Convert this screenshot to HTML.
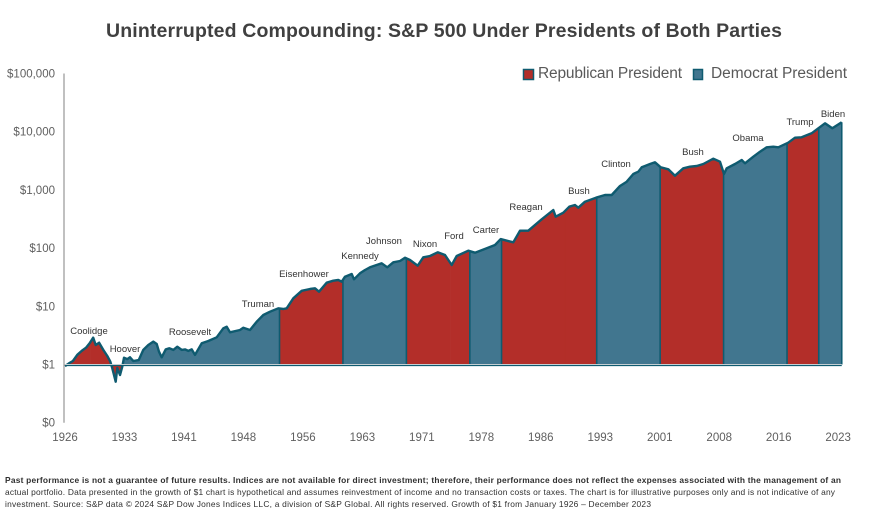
<!DOCTYPE html>
<html lang="en">
<head>
<meta charset="utf-8">
<title>Uninterrupted Compounding: S&amp;P 500 Under Presidents of Both Parties</title>
<style>
html,body{margin:0;padding:0;background:#fff;}
body{width:874px;height:519px;overflow:hidden;}
svg{display:block;font-family:"Liberation Sans",sans-serif;}
.pres{font-size:9.5px;fill:#333;text-anchor:middle;}
.tick{font-size:11.5px;fill:#5f5f5f;}
.legend{font-size:15.5px;fill:#595959;}
.foot{font-size:8.4px;fill:#2f2f2f;}
</style>
</head>
<body>
<svg id="chart" width="874" height="519" viewBox="0 0 874 519" xmlns="http://www.w3.org/2000/svg">
  <text x="106" y="37" font-size="19.5" font-weight="bold" fill="#404040" textLength="676" lengthAdjust="spacing">Uninterrupted Compounding: S&amp;P 500 Under Presidents of Both Parties</text>

  <rect x="523.5" y="69.5" width="10" height="10" fill="#b32e29" stroke="#0f5b70" stroke-width="1.5"/>
  <text class="legend" x="538" y="78" textLength="144" lengthAdjust="spacing">Republican President</text>
  <rect x="693.5" y="69.5" width="9" height="10" fill="#41768f" stroke="#0f5b70" stroke-width="1.5"/>
  <text class="legend" x="711" y="78" textLength="136" lengthAdjust="spacing">Democrat President</text>

  <g id="fills"></g>
  <g id="lines"></g>
  <g id="axes"></g>

  <g>
    <text class="pres" x="89" y="334">Coolidge</text>
    <text class="pres" x="125" y="352">Hoover</text>
    <text class="pres" x="190" y="335">Roosevelt</text>
    <text class="pres" x="258" y="307">Truman</text>
    <text class="pres" x="304" y="277">Eisenhower</text>
    <text class="pres" x="360" y="259">Kennedy</text>
    <text class="pres" x="384" y="244">Johnson</text>
    <text class="pres" x="425" y="247">Nixon</text>
    <text class="pres" x="454" y="239">Ford</text>
    <text class="pres" x="486" y="233">Carter</text>
    <text class="pres" x="526" y="210">Reagan</text>
    <text class="pres" x="579" y="194">Bush</text>
    <text class="pres" x="616" y="167">Clinton</text>
    <text class="pres" x="693" y="155">Bush</text>
    <text class="pres" x="748" y="141">Obama</text>
    <text class="pres" x="800" y="125">Trump</text>
    <text class="pres" x="833" y="117">Biden</text>
  </g>

  <g>
    <text class="foot" x="5" y="483" font-weight="bold" textLength="836" lengthAdjust="spacing">Past performance is not a guarantee of future results. Indices are not available for direct investment; therefore, their performance does not reflect the expenses associated with the management of an</text>
    <text class="foot" x="5" y="495" textLength="830" lengthAdjust="spacing">actual portfolio. Data presented in the growth of $1 chart is hypothetical and assumes reinvestment of income and no transaction costs or taxes. The chart is for illustrative purposes only and is not indicative of any</text>
    <text class="foot" x="5" y="507" textLength="646" lengthAdjust="spacing">investment. Source: S&amp;P data © 2024 S&amp;P Dow Jones Indices LLC, a division of S&amp;P Global. All rights reserved. Growth of $1 from January 1926 – December 2023</text>
  </g>
</svg>
<script>
const dates = [1926.0,1926.5,1927.0,1927.55,1928.1,1928.65,1929.15,1929.55,1929.87,1930.3,1930.83,1931.33,1931.71,1931.96,1932.39,1932.6,1932.94,1933.23,1933.44,1933.86,1934.2,1934.61,1935.29,1935.87,1936.5,1937.13,1937.56,1937.85,1938.19,1938.7,1939.15,1939.66,1940.16,1940.72,1941.13,1941.55,1941.98,1942.39,1943.24,1944.07,1945.13,1945.96,1946.39,1946.81,1948.07,1948.48,1949.33,1950.17,1951.0,1951.85,1952.9,1953.53,1953.96,1954.79,1955.85,1956.9,1957.53,1958.03,1959.0,1959.83,1960.46,1960.89,1961.31,1962.15,1962.44,1963.2,1963.83,1964.46,1965.94,1966.64,1967.4,1968.24,1968.88,1969.5,1970.48,1971.18,1972.03,1973.0,1973.92,1974.76,1975.39,1976.86,1977.7,1979.18,1980.22,1980.94,1982.53,1983.38,1984.42,1986.11,1987.58,1987.88,1988.84,1989.59,1990.31,1990.73,1991.57,1992.96,1994.1,1994.94,1995.99,1996.83,1997.66,1998.3,1998.72,1999.14,1999.77,2000.4,2001.12,2002.08,2002.92,2003.97,2004.8,2005.66,2006.49,2007.75,2008.6,2009.1,2009.44,2010.49,2011.34,2011.75,2012.8,2013.64,2014.49,2015.32,2015.95,2017.2,2018.05,2018.89,2020.15,2020.99,2021.84,2022.76,2023.95];
const growth = [0.94,1.05,1.15,1.47,1.71,1.94,2.37,2.89,2.16,2.37,1.78,1.40,1.12,0.86,0.506,0.87,0.66,0.92,1.31,1.24,1.33,1.15,1.19,1.78,2.16,2.47,2.25,1.66,1.33,1.82,1.90,1.78,2.02,1.78,1.82,1.71,1.82,1.46,2.31,2.53,2.93,4.19,4.46,3.57,3.92,4.29,3.92,5.44,7.09,8.08,9.24,8.99,9.24,13.7,18.5,19.8,20.4,17.8,25.4,27.5,28.3,26.5,32.3,35.9,29.1,36.9,42.1,46.8,54.8,46.8,57.0,60.0,68.4,62.5,49.9,69.5,73.1,84.7,76.1,51.3,73.1,90.2,83.4,99.2,113,143,126,199,199,313,452,347,406,514,551,494,627,735,817,817,1167,1384,1875,2056,2443,2576,2786,2979,2443,2259,1754,2350,2505,2576,2786,3436,3055,1875,2350,2786,3266,2864,3717,4530,5395,5521,5395,6471,7888,8017,9397,11430,13930,11430,14510];
const termNames = ['coolidge','hoover','roosevelt','truman','eisenhower','kennedy','johnson','nixon','ford','carter','reagan','bush-senior','clinton','bush-junior','obama','trump','biden'];
const termStarts = [1926.0,1929.2,1933.2,1945.3,1953.05,1961.05,1963.9,1969.05,1974.6,1977.05,1981.05,1989.05,1993.05,2001.05,2009.05,2017.05,2021.05];
const termParties = ['R','R','D','D','R','D','D','R','R','D','R','R','D','R','D','R','D'];
const yTickValues = [100000,10000,1000,100,10,1,0.1];
const yTickLabels = ['$100,000','$10,000','$1,000','$100','$10','$1','$0'];
const xTickYears = [1926,1933.5,1941,1948.5,1956,1963.5,1971,1978.5,1986,1993.5,2001,2008.5,2016,2023.5];
const xTickLabels = ['1926','1933','1941','1948','1956','1963','1971','1978','1986','1993','2001','2008','2016','2023'];

const NS = 'http://www.w3.org/2000/svg';
const xOf = t => 65 + 7.93 * (t - 1926);
const yOf = v => 364.5 - 58.2 * Math.log10(v);
const partyColor = { R: '#b32e29', D: '#41768f' };
const LINE = '#0f5b70';
const lastDate = dates[dates.length - 1];

function valueAt(t) {
  if (t <= dates[0]) return growth[0];
  for (let i = 1; i < dates.length; i++) {
    if (t <= dates[i]) {
      const f = (t - dates[i - 1]) / (dates[i] - dates[i - 1]);
      return Math.pow(10, Math.log10(growth[i - 1]) + f * (Math.log10(growth[i]) - Math.log10(growth[i - 1])));
    }
  }
  return growth[growth.length - 1];
}

const fills = document.getElementById('fills');
const lines = document.getElementById('lines');
const axes = document.getElementById('axes');
const base = yOf(1);

termNames.forEach((name, k) => {
  const start = termStarts[k];
  const end = k + 1 < termStarts.length ? termStarts[k + 1] : lastDate;
  const pts = [[xOf(start), base], [xOf(start), yOf(valueAt(start))]];
  dates.forEach((t, i) => {
    if (t > start && t < end) pts.push([xOf(t), yOf(growth[i])]);
  });
  pts.push([xOf(end), yOf(valueAt(end))], [xOf(end), base]);
  const poly = document.createElementNS(NS, 'polygon');
  
  
  poly.setAttribute('points', pts.map(p => p[0].toFixed(1) + ',' + p[1].toFixed(1)).join(' '));
  poly.setAttribute('fill', partyColor[termParties[k]]);
  poly.setAttribute('stroke', partyColor[termParties[k]]);
  poly.setAttribute('stroke-width', '0.4');
  fills.appendChild(poly);
});

const dividerDates = termStarts.filter((t, k) => k > 0 && termParties[k] !== termParties[k - 1]).concat([lastDate]);
dividerDates.forEach(t => {
  const div = document.createElementNS(NS, 'line');
  
  
  div.setAttribute('x1', xOf(t));
  div.setAttribute('x2', xOf(t));
  div.setAttribute('y1', yOf(valueAt(t)));
  div.setAttribute('y2', base);
  div.setAttribute('stroke', LINE);
  div.setAttribute('stroke-width', '1.6');
  lines.appendChild(div);
});

const path = document.createElementNS(NS, 'polyline');


path.setAttribute('points', dates.map((t, i) => xOf(t).toFixed(1) + ',' + yOf(growth[i]).toFixed(1)).join(' '));
path.setAttribute('fill', 'none');
path.setAttribute('stroke', LINE);
path.setAttribute('stroke-width', '2.4');
path.setAttribute('stroke-linejoin', 'round');
lines.appendChild(path);

const baseTeal = document.createElementNS(NS, 'line');


baseTeal.setAttribute('x1', xOf(1926));
baseTeal.setAttribute('x2', xOf(lastDate));
baseTeal.setAttribute('y1', base + 1);
baseTeal.setAttribute('y2', base + 1);
baseTeal.setAttribute('stroke', LINE);
baseTeal.setAttribute('stroke-width', '1.2');
lines.appendChild(baseTeal);

const baseGrey = document.createElementNS(NS, 'line');


baseGrey.setAttribute('x1', xOf(1926));
baseGrey.setAttribute('x2', xOf(lastDate));
baseGrey.setAttribute('y1', base);
baseGrey.setAttribute('y2', base);
baseGrey.setAttribute('stroke', '#c4ced2');
baseGrey.setAttribute('stroke-width', '1');
lines.appendChild(baseGrey);

const yAxis = document.createElementNS(NS, 'line');


yAxis.setAttribute('x1', '64');
yAxis.setAttribute('x2', '64');
yAxis.setAttribute('y1', yOf(yTickValues[0]));
yAxis.setAttribute('y2', yOf(yTickValues[yTickValues.length - 1]));
yAxis.setAttribute('stroke', '#a6a6a6');
yAxis.setAttribute('stroke-width', '1.4');
axes.appendChild(yAxis);

yTickValues.forEach((v, i) => {
  const tx = document.createElementNS(NS, 'text');
  
  
  tx.setAttribute('class', 'tick');
  tx.setAttribute('x', '55');
  tx.setAttribute('y', yOf(v) + 4);
  tx.setAttribute('text-anchor', 'end');
  tx.textContent = yTickLabels[i];
  axes.appendChild(tx);
});

xTickYears.forEach((t, i) => {
  const tx = document.createElementNS(NS, 'text');
  
  
  tx.setAttribute('class', 'tick');
  tx.setAttribute('x', xOf(t));
  tx.setAttribute('y', '441');
  tx.setAttribute('text-anchor', 'middle');
  tx.textContent = xTickLabels[i];
  axes.appendChild(tx);
});
</script>
</body>
</html>
